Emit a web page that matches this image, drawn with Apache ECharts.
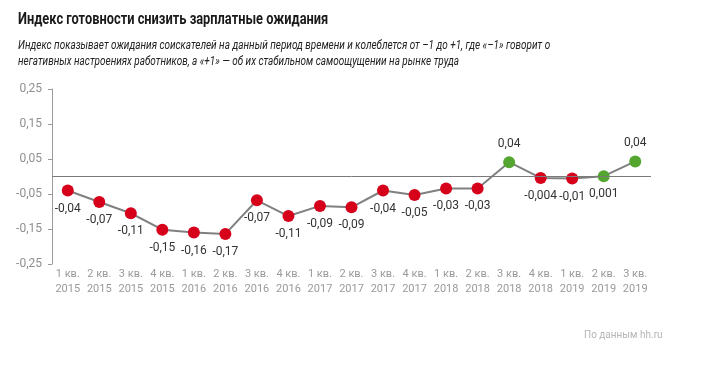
<!DOCTYPE html>
<html><head><meta charset="utf-8">
<script src="https://cdn.jsdelivr.net/npm/echarts@6/dist/echarts.min.js"></script>
<style>html,body{margin:0;padding:0;background:#fff}#c{width:720px;height:388px}</style>
</head><body><div id="c"></div>
<script>
const quarters = ["1 кв.","2 кв.","3 кв.","4 кв.","1 кв.","2 кв.","3 кв.","4 кв.","1 кв.","2 кв.","3 кв.","4 кв.","1 кв.","2 кв.","3 кв.","4 кв.","1 кв.","2 кв.","3 кв."];
const years = ["2015","2015","2015","2015","2016","2016","2016","2016","2017","2017","2017","2017","2018","2018","2018","2018","2019","2019","2019"];
const values = [-0.04,-0.073,-0.105,-0.152,-0.16,-0.164,-0.068,-0.113,-0.084,-0.088,-0.04,-0.053,-0.034,-0.034,0.041,-0.004,-0.006,0.001,0.043];
const valueLabels = ["-0,04","-0,07","-0,11","-0,15","-0,16","-0,17","-0,07","-0,11","-0,09","-0,09","-0,04","-0,05","-0,03","-0,03","0,04","-0,004","-0,01","0,001","0,04"];
const yTicks = [-0.25,-0.15,-0.05,0.05,0.15,0.25];

const RED = '#d7001b', GREEN = '#55a630';
const cats = quarters.map((q,i)=>q+'\n'+years[i]);
const data = values.map((v,i)=>{
  const pos = v > 0.01 ? 'top' : 'bottom';
  return {value:v, itemStyle:{color: v>0?GREEN:RED}, label:{position:pos, formatter: valueLabels[i]}};
});

const chart = echarts.init(document.getElementById('c'), null, {renderer:'canvas'});
chart.setOption({
  animation:false,
  title:{text:'По данным hh.ru', left:579, top:325,
     textStyle:{fontFamily:'Roboto', fontWeight:'normal', fontSize:10, color:'#b5b5b5'}},
  graphic:[
    {type:'text', x:18, y:20, scaleX:0.755,
     style:{text:'Индекс готовности снизить зарплатные ожидания', fontSize:17, fontWeight:'bold', fontFamily:'Roboto', fill:'#1a1a1a', verticalAlign:'middle'}},
    {type:'text', x:18, y:46, scaleX:0.83,
     style:{text:'Индекс показывает ожидания соискателей на данный период времени и колеблется от –1 до +1, где «–1» говорит о', fontSize:12, fontStyle:'italic', fontFamily:'Roboto', fill:'#222', verticalAlign:'middle'}},
    {type:'text', x:18, y:62, scaleX:0.83,
     style:{text:'негативных настроениях работников, а «+1» — об их стабильном самоощущении на рынке труда', fontSize:12, fontStyle:'italic', fontFamily:'Roboto', fill:'#222', verticalAlign:'middle'}}
  ],
  grid:{left:52, right:69, top:89, bottom:124},
  xAxis:{type:'category', data:cats, boundaryGap:true,
    axisLine:{show:false}, axisTick:{show:false},
    axisLabel:{interval:0, color:'#9a9a9a', fontFamily:'Roboto', fontSize:11, lineHeight:15, margin:3}},
  yAxis:{type:'value', min:-0.25, max:0.25,
    axisLine:{show:true, lineStyle:{color:'#9a9a9a', width:1}},
    axisTick:{show:true, length:4, customValues:yTicks, lineStyle:{color:'#9a9a9a'}},
    splitLine:{show:false},
    axisLabel:{customValues:yTicks, color:'#8f8f8f', fontFamily:'Roboto', fontSize:12, margin:10,
      formatter:v=>v.toFixed(2).replace('.',',')}},
  series:[{type:'line', data:data, symbol:'circle', symbolSize:12,
    lineStyle:{color:'#808080', width:2},
    label:{show:true, color:'#333', fontFamily:'Roboto', fontSize:12, distance:6},
    markLine:{silent:true, symbol:'none', label:{show:false},
      lineStyle:{color:'#7a7a7a', type:'solid', width:1}, data:[{yAxis:0}]},
    z:3}]
});
</script></body></html>
